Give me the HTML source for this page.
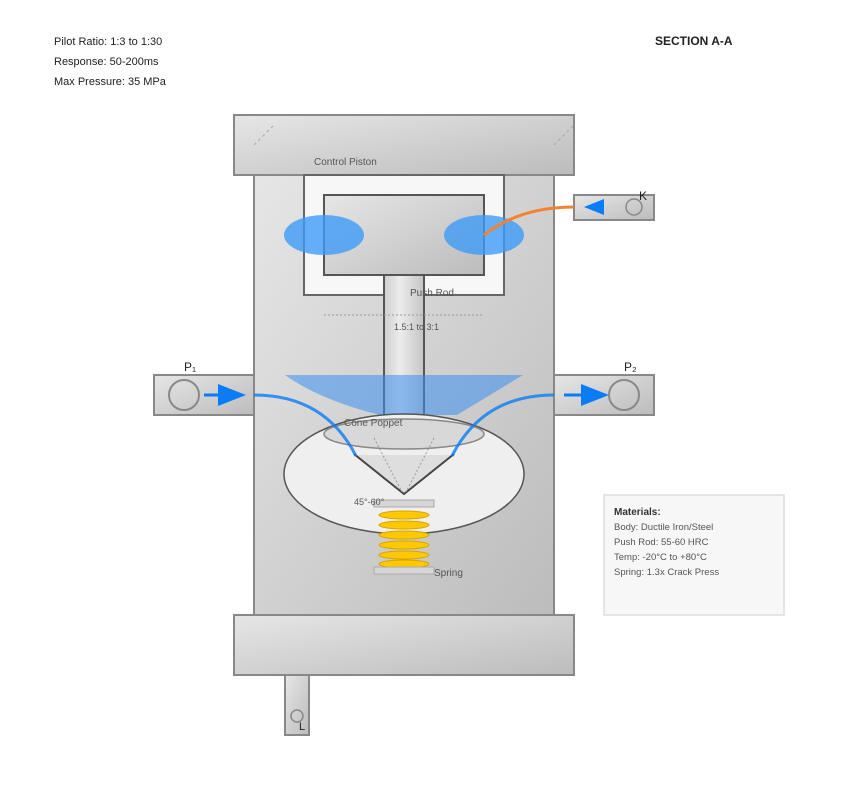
<!DOCTYPE html>
<html><head><meta charset="utf-8"><style>
html,body{margin:0;padding:0;background:#fff;}
svg{display:block;font-family:"Liberation Sans",Arial,sans-serif;}
</style></head><body>
<svg width="849" height="801" viewBox="0 0 849 801" xmlns="http://www.w3.org/2000/svg">
<defs>
<linearGradient id="g" x1="0" y1="0" x2="1" y2="1"><stop offset="0" stop-color="#e6e6e6"/><stop offset="1" stop-color="#bcbcbc"/></linearGradient>
<linearGradient id="rod" x1="0" y1="0" x2="1" y2="0"><stop offset="0" stop-color="#cfcfcf"/><stop offset="0.4" stop-color="#ececec"/><stop offset="1" stop-color="#c4c4c4"/></linearGradient>
</defs>
<text x="54" y="45" font-size="11" fill="#222">Pilot Ratio: 1:3 to 1:30</text>
<text x="54" y="65" font-size="11" fill="#222">Response: 50-200ms</text>
<text x="54" y="85" font-size="11" fill="#222">Max Pressure: 35 MPa</text>
<text x="655" y="45" font-size="12" font-weight="bold" fill="#222">SECTION A-A</text>

<!-- body -->
<rect x="254" y="175" width="300" height="440" fill="url(#g)" stroke="#888" stroke-width="2"/>
<rect x="234" y="115" width="340" height="60" fill="url(#g)" stroke="#888" stroke-width="2"/>
<line x1="254" y1="145" x2="274" y2="125" stroke="#aaa" stroke-dasharray="3,3"/>
<line x1="554" y1="145" x2="574" y2="125" stroke="#aaa" stroke-dasharray="3,3"/>
<text x="314" y="165" font-size="10" fill="#555">Control Piston</text>
<rect x="234" y="615" width="340" height="60" fill="url(#g)" stroke="#888" stroke-width="2"/>
<rect x="285" y="675" width="24" height="60" fill="url(#g)" stroke="#888" stroke-width="2"/>
<circle cx="297" cy="716" r="6" fill="none" stroke="#888" stroke-width="1.5"/>
<text x="299" y="730" font-size="11" fill="#222">L</text>

<!-- chamber -->
<rect x="304" y="175" width="200" height="120" fill="#f7f7f7" stroke="#666" stroke-width="2"/>
<rect x="324" y="195" width="160" height="80" fill="url(#g)" stroke="#555" stroke-width="2"/>
<ellipse cx="324" cy="235" rx="40" ry="20" fill="#3d9bf5" opacity="0.8"/>
<ellipse cx="484" cy="235" rx="40" ry="20" fill="#3d9bf5" opacity="0.8"/>
<rect x="384" y="275" width="40" height="142" fill="url(#rod)" stroke="#555" stroke-width="2"/>
<text x="410" y="296" font-size="10" fill="#555">Push Rod</text>
<line x1="324" y1="315" x2="484" y2="315" stroke="#999" stroke-dasharray="2,2"/>
<text x="394" y="330" font-size="9" fill="#555">1.5:1 to 3:1</text>
<path d="M285 375 L523 375 L457 415 L380 415 Q320 400 285 375 Z" fill="#3d8ff0" opacity="0.55"/>

<!-- K port -->
<rect x="574" y="195" width="80" height="25" fill="url(#g)" stroke="#888" stroke-width="2"/>
<circle cx="634" cy="207" r="8" fill="none" stroke="#888" stroke-width="1.5"/>
<polygon points="584,207 604,199 604,215" fill="#0a7cf5"/>
<text x="639" y="200" font-size="12" fill="#222">K</text>
<path d="M574 207 Q520 207 484 235" stroke="#f58231" stroke-width="3" fill="none"/>

<!-- ports -->
<rect x="154" y="375" width="100" height="40" fill="url(#g)" stroke="#888" stroke-width="2"/>
<circle cx="184" cy="395" r="15" fill="none" stroke="#888" stroke-width="2"/>
<line x1="204" y1="395" x2="225" y2="395" stroke="#0a7cf5" stroke-width="3"/>
<polygon points="218,384 246,395 218,406" fill="#0a7cf5"/>
<text x="184" y="371" font-size="12" fill="#222">P₁</text>
<rect x="554" y="375" width="100" height="40" fill="url(#g)" stroke="#888" stroke-width="2"/>
<circle cx="624" cy="395" r="15" fill="none" stroke="#888" stroke-width="2"/>
<line x1="564" y1="395" x2="585" y2="395" stroke="#0a7cf5" stroke-width="3"/>
<polygon points="581,384 609,395 581,406" fill="#0a7cf5"/>
<text x="624" y="371" font-size="12" fill="#222">P₂</text>

<!-- poppet chamber -->
<ellipse cx="404" cy="474" rx="120" ry="60" fill="#efefef" stroke="#555" stroke-width="1.5"/>
<ellipse cx="404" cy="434" rx="80" ry="15" fill="#d8d8d8" stroke="#888" stroke-width="1.5"/>
<text x="344" y="426" font-size="10" fill="#555">Cone Poppet</text>
<polygon points="356,455 404,494 452,455" fill="#dedede"/>
<polyline points="354,454 404,494 454,454" fill="none" stroke="#444" stroke-width="2"/>
<line x1="374" y1="438" x2="402" y2="492" stroke="#999" stroke-dasharray="2,2"/>
<line x1="434" y1="438" x2="406" y2="492" stroke="#999" stroke-dasharray="2,2"/>
<path d="M254 395 Q325 395 356 456" stroke="#0a7cf5" stroke-width="3" fill="none" opacity="0.8"/>
<path d="M554 395 Q483 395 452 456" stroke="#0a7cf5" stroke-width="3" fill="none" opacity="0.8"/>
<rect x="374" y="500" width="60" height="7" fill="#d6d6d6" stroke="#aaa"/>
<text x="354" y="505" font-size="9" fill="#555">45°-60°</text>
<g fill="#ffc800" stroke="#d9a400">
<ellipse cx="404" cy="515" rx="25" ry="4"/><ellipse cx="404" cy="525" rx="25" ry="4"/><ellipse cx="404" cy="535" rx="25" ry="4"/><ellipse cx="404" cy="545" rx="25" ry="4"/><ellipse cx="404" cy="555" rx="25" ry="4"/><ellipse cx="404" cy="564" rx="25" ry="4"/>
</g>
<rect x="374" y="567" width="60" height="7" fill="#d6d6d6" stroke="#aaa"/>
<text x="434" y="576" font-size="10" fill="#555">Spring</text>

<!-- materials -->
<rect x="604" y="495" width="180" height="120" fill="#f7f7f7" stroke="#ddd" stroke-width="1.5"/>
<text x="614" y="515" font-size="10" font-weight="bold" fill="#333">Materials:</text>
<text x="614" y="530" font-size="9.5" fill="#555">Body: Ductile Iron/Steel</text>
<text x="614" y="545" font-size="9.5" fill="#555">Push Rod: 55-60 HRC</text>
<text x="614" y="560" font-size="9.5" fill="#555">Temp: -20°C to +80°C</text>
<text x="614" y="575" font-size="9.5" fill="#555">Spring: 1.3x Crack Press</text>
</svg>
</body></html>
